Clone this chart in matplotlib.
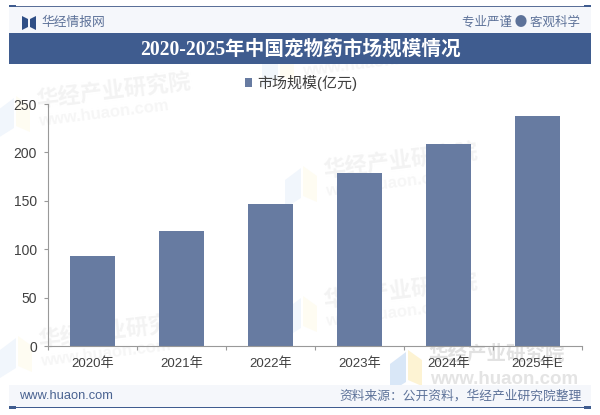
import matplotlib
matplotlib.use('Agg')
import matplotlib.pyplot as plt
from matplotlib.patches import Rectangle, Polygon

plt.rcParams['font.family'] = ['Liberation Sans', 'Noto Sans CJK SC', 'DejaVu Sans']

years = ['2020年', '2021年', '2022年', '2023年', '2024年', '2025年E']
market_size = [93, 119, 147, 179, 209, 238]
y_ticks = [0, 50, 100, 150, 200, 250]

W, H = 600, 415
BAR = '#677ba1'
NAVY = '#3f5c8f'
TXT = '#404040'
CJK = ['Noto Sans CJK SC', 'DejaVu Sans']


def px(x, y):
    return x / W, 1 - y / H


def band(x0, y0, x1, y1, color, z=0):
    fig.add_artist(Rectangle(px(x0, y1), (x1 - x0) / W, (y1 - y0) / H,
                             transform=fig.transFigure, fc=color, ec='none', zorder=z))


def poly(points, color, z=0.5):
    fig.add_artist(Polygon([px(*p) for p in points], transform=fig.transFigure, fc=color, ec='none', zorder=z))


def watermark(x, y, rot=7, size=16, url_size=12, text_color='#f3f3f3', url_color='#f6f6f6',
              blue='#f1f6fc', yellow='#fefcf2'):
    # 水印: logo 在左, x/y 是公司名左端中心
    drop = 22 if rot else 25
    poly([(x - 38, y + 10), (x - 22, y - 2), (x - 22, y + 28), (x - 38, y + 38)], blue)
    poly([(x - 20, y - 4), (x - 6, y + 6), (x - 6, y + 32), (x - 20, y + 26)], yellow)
    fig.text(*px(x, y), '华经产业研究院', fontsize=size, fontweight='bold', color=text_color, family=CJK,
             rotation=rot, rotation_mode='anchor', ha='left', va='center', zorder=0.6)
    fig.text(*px(x + 2, y + drop), 'www.huaon.com', fontsize=url_size, fontweight='bold', color=url_color,
             rotation=rot, rotation_mode='anchor', ha='left', va='center', zorder=0.6)


fig = plt.figure(figsize=(W / 100, H / 100), dpi=100, facecolor='white')

# 水印
watermark(36, 100)
watermark(323, 170)
watermark(323, 300)
watermark(38, 340)
watermark(300, 50)
watermark(428, 354, rot=0, size=14, url_size=13.5, text_color='#e2e2e2', url_color='#e4e4e4',
          blue='#d9e7f7', yellow='#fdf3d3')

# 页眉
band(9, 6, 591, 33, '#f5f7fb', 1)
band(9, 5.6, 591, 6.6, '#5a6f98', 2)
band(9, 5, 16, 7.5, NAVY, 2)
band(584, 5, 591, 7.5, NAVY, 2)
band(9, 33, 591, 64, NAVY, 2)
poly([(22, 16), (28, 19), (28, 27), (22, 30)], '#2f4f86', 3)
poly([(36, 16), (30, 19), (30, 27), (36, 30)], '#2f4f86', 3)
fig.text(*px(41, 22), '华经情报网', fontsize=9.2, color='#5d7299', family=CJK, va='center', ha='left', zorder=3)
fig.text(*px(580, 22), '专业严谨 ● 客观科学', fontsize=9, color='#5d7299', family=CJK, va='center', ha='right', zorder=3)
fig.text(*px(300, 49.5), '2020-2025年中国宠物药市场规模情况', fontsize=14.1, fontweight='bold', color='white',
         family=['Liberation Serif', 'Noto Sans CJK SC'], va='center', ha='center', zorder=3)

# 页脚
band(9, 385, 591, 407, '#f5f7fb', 1)
band(9, 406.6, 591, 407.6, NAVY, 2)
band(9, 406, 16, 408.5, NAVY, 2)
band(584, 406, 591, 408.5, NAVY, 2)
fig.text(*px(19, 396), 'www.huaon.com', fontsize=9.3, color='#4a6391', va='center', ha='left', zorder=3)
fig.text(*px(582, 396), '资料来源：公开资料，华经产业研究院整理', fontsize=9.2, color='#5d7299', family=CJK,
         va='center', ha='right', zorder=3)

# 图表
ax = fig.add_axes([48 / W, 1 - 346 / H, (582 - 48) / W, (346 - 104) / H], zorder=2)
ax.patch.set_alpha(0)
x = list(range(len(years)))
bars = ax.bar(x, market_size, width=0.5, color=BAR, label='市场规模(亿元)')
ax.set_xlim(-0.5, 5.5)
ax.set_ylim(0, 250)
ax.set_yticks(y_ticks)
ax.set_xticks(x)
ax.set_xticklabels(years)
ax.set_xticks([i - 0.5 for i in range(len(years) + 1)], minor=True)
ax.tick_params(axis='x', which='major', length=0, labelsize=9.5, labelcolor=TXT, pad=8)
ax.tick_params(axis='x', which='minor', length=3, color='#999999', width=0.8)
ax.tick_params(axis='y', length=3, labelsize=10, labelcolor=TXT, color='#999999', width=0.8, pad=5)
for side in ['top', 'right']:
    ax.spines[side].set_visible(False)
for side in ['left', 'bottom']:
    ax.spines[side].set_color('#999999')
    ax.spines[side].set_linewidth(0.8)

fig.legend(handles=[bars], labels=['市场规模(亿元)'], loc='center', bbox_to_anchor=px(301, 83), frameon=False,
           fontsize=10.8, labelcolor=TXT, handlelength=0.5, handleheight=0.5, handletextpad=0.35)

fig.savefig('out.png', dpi=100)
